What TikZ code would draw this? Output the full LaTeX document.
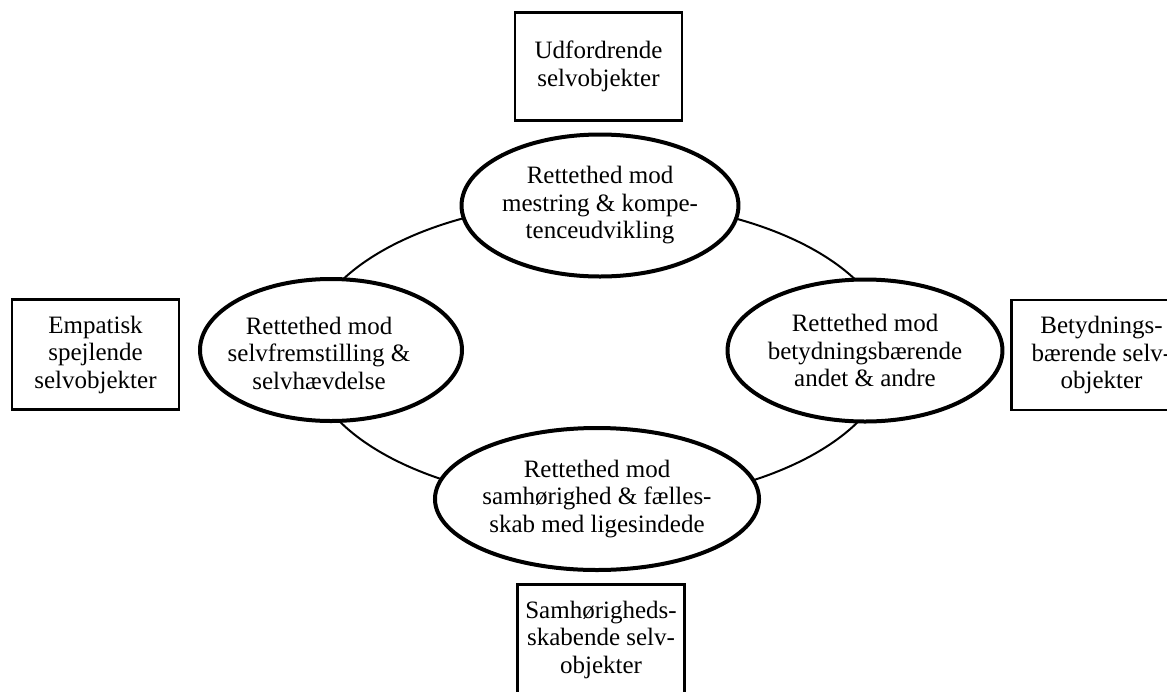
\documentclass[tikz,border=0pt]{standalone}
\usepackage{fontspec}
\setmainfont{Liberation Serif}
\usetikzlibrary{shapes.geometric}
\newcommand{\diagtxt}{\fontsize{25}{27.5}\selectfont}
\tikzset{
  oval/.style={ellipse, draw, line width=4pt, fill=white, minimum width=262pt,
    minimum height=142pt, inner sep=0pt, align=center, font=\diagtxt},
  sbox/.style={rectangle, draw, line width=2.7pt, fill=white, minimum width=167pt,
    minimum height=110pt, inner sep=0pt, align=center, font=\diagtxt},
  ringstyle/.style={ellipse, draw, line width=2pt, minimum width=584pt,
    minimum height=302pt, inner sep=0pt},
  plaintxt/.style={inner sep=0pt, align=center, font=\diagtxt}
}
\begin{document}
\begin{tikzpicture}[x=1pt,y=-1pt]
\useasboundingbox (0,0) rectangle (1167,691);
\clip (0,0) rectangle (1167,691);
\fill[white] (0,0) rectangle (1167,691);
% ring connecting the four orientations
\node[ringstyle] (ring) at (599,352) {};
% orientations
\node[oval] (top) at (600,205.5) {Rettethed mod\\mestring \& kompe-\\tenceudvikling};
\node[oval] (left) at (331,350) {};
\node[plaintxt] (lefttxt) at (319,353) {Rettethed mod\\selvfremstilling \&\\selvhævdelse};
\node[oval] (right) at (865,350.5) {Rettethed mod\\betydningsbærende\\andet \& andre};
\node[oval] (bottom) at (597,499) {Rettethed mod\\samhørighed \& fælles-\\skab med ligesindede};
% self-objects
\node[sbox, minimum height=108.5pt] (challenge) at (598.5,66.5) {Udfordrende\\selvobjekter};
\node[sbox] (empathic) at (95.5,354.5) {Empatisk\\spejlende\\selvobjekter};
\node[sbox, minimum width=180pt] (meaning) at (1101.5,355) {Betydnings-\\bærende selv-\\objekter};
\node[sbox] (together) at (601,639.5) {Samhørigheds-\\skabende selv-\\objekter};
\end{tikzpicture}
\end{document}
